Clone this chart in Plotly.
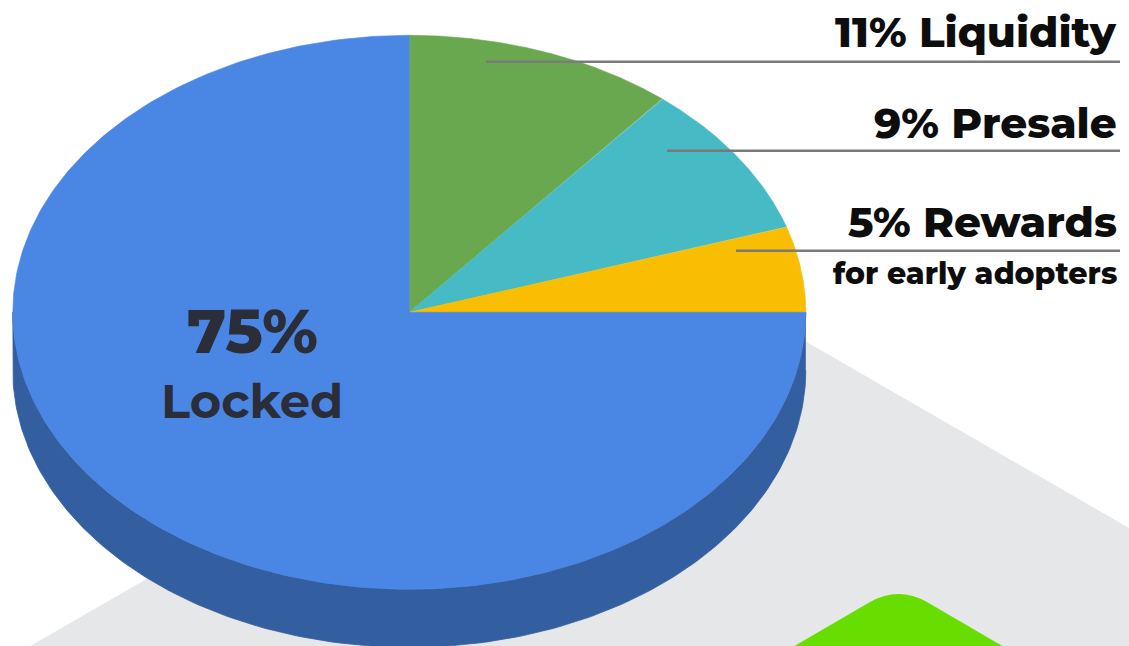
import numpy as np
import plotly.graph_objects as go

# ---- data ----
categories = ["Liquidity", "Presale", "Rewards", "Locked"]
values = [11, 9, 5, 75]
subtitles = ["", "", "for early adopters", ""]

# ---- style / layout constants ----
top_colors = ["#6aa84f", "#46bbc6", "#f9bd02", "#4a86e4"]
side_colors = ["#4a7a37", "#32878f", "#b88a02", "#335ea0"]
W, H = 1129, 646
CX, CY, RX, RY, DEPTH = 409.3, 312.3, 396.5, 277.0, 58.0
FONT = "Montserrat, Inter, 'Open Sans', sans-serif"

fig = go.Figure()


def ell(theta_deg, dy=0.0):
    t = np.radians(theta_deg)
    return CX + RX * np.cos(t), CY - RY * np.sin(t) + dy


total = float(sum(values))
bounds = []
cum = 0.0
for v in values:
    a0 = 90 - 360 * cum / total
    cum += v
    a1 = 90 - 360 * cum / total
    bounds.append((a1, a0))  # a1 < a0 (clockwise)

# side walls (front half of the disc: sin(theta) < 0)
for (a1, a0), col in zip(bounds, side_colors):
    for k in (-1, 0, 1):
        lo = max(a1, -180 + 360 * k)
        hi = min(a0, 0 + 360 * k)
        if hi <= lo:
            continue
        th = np.linspace(hi, lo, 200)
        xt, yt = ell(th)
        xb, yb = ell(th[::-1], DEPTH)
        fig.add_trace(go.Scatter(
            x=np.concatenate([xt, xb]), y=np.concatenate([yt, yb]),
            fill="toself", fillcolor=col, mode="lines",
            line=dict(width=0.8, color=col), hoverinfo="skip", showlegend=False))

# top faces
for (a1, a0), col, name, v in zip(bounds, top_colors, categories, values):
    th = np.linspace(a0, a1, 300)
    xs, ys = ell(th)
    fig.add_trace(go.Scatter(
        x=np.concatenate([[CX], xs, [CX]]), y=np.concatenate([[CY], ys, [CY]]),
        fill="toself", fillcolor=col, mode="lines",
        line=dict(width=0.6, color=col), name=name,
        hovertemplate=f"{name}: {v}%<extra></extra>", showlegend=False))

# background decoration shapes
shapes = [
    dict(type="path", xref="x", yref="y", layer="below",
         path="M 682 270 L 1500 742 L 682 1214 L -136 742 Z",
         fillcolor="#e6e7e9", line=dict(width=0)),
    dict(type="path", xref="x", yref="y", layer="below",
         path="M 700 701 L 870 602 Q 898.5 586 927 602 L 1100 703 Z",
         fillcolor="#68de00", line=dict(width=0)),
]

# labels with leader lines for the three small slices
label_y = [31.5, 122.5, 222]
line_y = [61.7, 150.7, 250.7]
line_x0 = [486, 667, 736]
annotations = []
for i in range(3):
    shapes.append(dict(type="line", xref="x", yref="y",
                       x0=line_x0[i], x1=1120, y0=line_y[i], y1=line_y[i],
                       line=dict(color="#7a7a7a", width=2.5)))
    annotations.append(dict(
        x=1119, y=label_y[i], xref="x", yref="y", xanchor="right", yanchor="middle",
        text=f"{values[i]}% {categories[i]}", showarrow=False,
        font=dict(family=FONT, size=42, color="#0d0d0d", weight=800)))
    if subtitles[i]:
        annotations.append(dict(
            x=1119, y=label_y[i] + 51, xref="x", yref="y", xanchor="right", yanchor="middle",
            text=subtitles[i], showarrow=False,
            font=dict(family=FONT, size=30, color="#0d0d0d", weight=800)))

# big label for the largest slice
annotations.append(dict(
    x=252, y=331, xref="x", yref="y", xanchor="center", yanchor="middle",
    text=f"{values[3]}%", showarrow=False,
    font=dict(family=FONT, size=62, color="#2b2d38", weight=800)))
annotations.append(dict(
    x=252, y=401, xref="x", yref="y", xanchor="center", yanchor="middle",
    text=categories[3], showarrow=False,
    font=dict(family=FONT, size=48, color="#2b2d38", weight=700)))

fig.update_layout(
    width=W, height=H, margin=dict(l=0, r=0, t=0, b=0),
    paper_bgcolor="white", plot_bgcolor="white",
    xaxis=dict(range=[0, W], visible=False, fixedrange=True),
    yaxis=dict(range=[H, 0], visible=False, fixedrange=True),
    shapes=shapes, annotations=annotations, showlegend=False,
)

fig.write_html("out.html", config={"displayModeBar": False})
